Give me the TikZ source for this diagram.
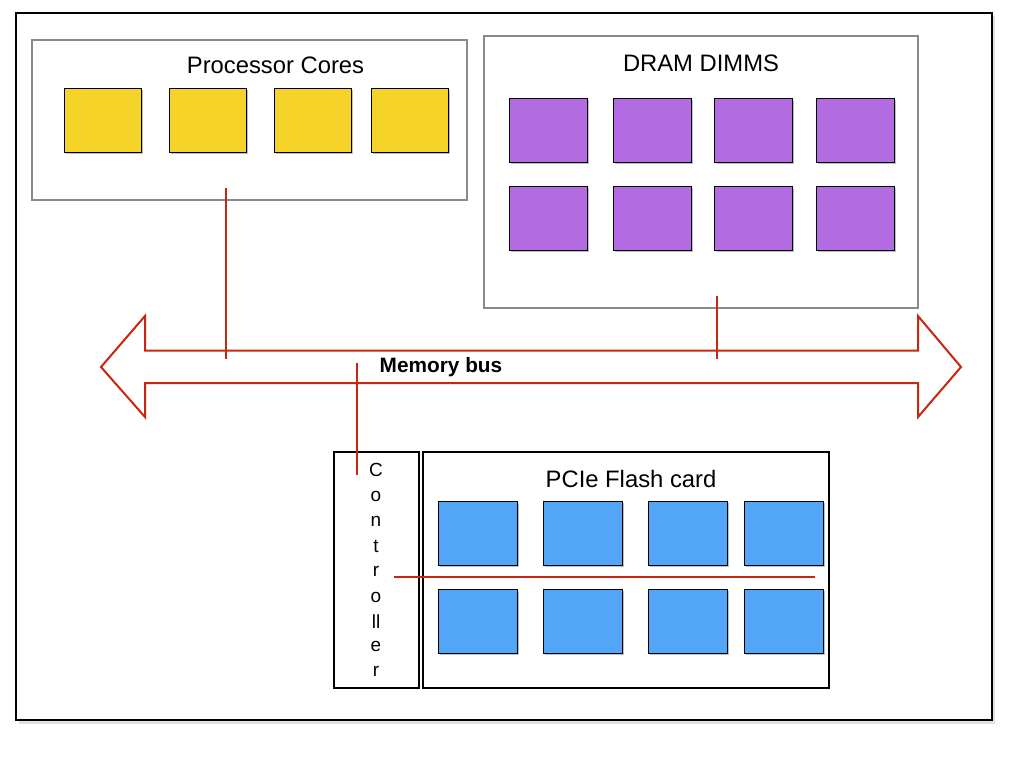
\documentclass[tikz,border=0pt]{standalone}
\usepackage{fontspec}
\setmainfont{Liberation Sans}
\usetikzlibrary{shadows}
\definecolor{coreY}{HTML}{F5D328}
\definecolor{dimmP}{HTML}{B26BE1}
\definecolor{flashB}{HTML}{53A6F7}
\definecolor{busR}{HTML}{C8260F}
\definecolor{grayB}{HTML}{87898C}
\tikzset{
  chip/.style={draw=black, line width=1pt, minimum width=#1, minimum height=64pt, inner sep=0pt,
    drop shadow={shadow xshift=1.5pt, shadow yshift=-1.5pt, opacity=0.25, fill=black}},
  graybox/.style={draw=grayB, line width=2pt, inner sep=0pt},
  blackbox/.style={draw=black, line width=2.4pt, inner sep=0pt},
  redline/.style={draw=busR, line width=2pt},
  title/.style={font=\fontsize{23.8}{26}\selectfont, inner sep=0pt},
}
\begin{document}
\begin{tikzpicture}[x=1pt,y=-1pt]
\useasboundingbox (0,0) rectangle (1024,768);
% outer frame
\fill[black!12] (19,16) rectangle (995,724);
\node[draw=black, fill=white, line width=1.5pt, inner sep=0pt, minimum width=976pt, minimum height=707pt] (frame) at (504,366.5) {};
% processor cores
\node[graybox, minimum width=435pt, minimum height=160pt] (cpu) at (249.5,120) {};
\node[title] (cputitle) at (275.5,65) {Processor Cores};
\foreach \x/\n in {102.5/1,207.5/2,312.5/3,409.5/4}
  \node[chip=77pt, fill=coreY] (core\n) at (\x,120) {};
% DRAM
\node[graybox, minimum width=434pt, minimum height=272pt] (dram) at (701,172) {};
\node[title] (dramtitle) at (701,63) {DRAM DIMMS};
\foreach \x/\n in {548/1,652.5/2,753.5/3,855/4}{
  \node[chip=78pt, fill=dimmP] (dimmA\n) at (\x,130) {};
  \node[chip=78pt, fill=dimmP] (dimmB\n) at (\x,218) {};
}
% memory bus arrow
\draw[busR, line width=2pt, line join=miter]
  (101,367) -- (145,316) -- (145,350.5) -- (918,350.5) -- (918,316) -- (961,367)
  -- (918,417) -- (918,383) -- (145,383) -- (145,417) -- cycle;
\node[font=\bfseries\fontsize{20.8}{22}\selectfont, inner sep=0pt] (bus) at (441,367.5) {Memory bus};
% controller and flash
\node[blackbox, line width=2pt, minimum width=85pt, minimum height=236pt] (ctrl) at (376.5,570) {};
\node[blackbox, minimum width=406pt, minimum height=236pt] (flash) at (626,570) {};
\node[title] (flashtitle) at (631,478.5) {PCIe Flash card};
\foreach \y/\l [count=\i] in {470/C,496/o,521/n,546/t,571/r,597/o,622/ll,646/e,671/r}
  \node[font=\fontsize{19}{20}\selectfont, inner sep=0pt] (cl\i) at (376,\y) {\l};
\foreach \x/\n in {477.5/1,582.5/2,687.5/3,784/4}{
  \node[chip=79pt, fill=flashB] (flA\n) at (\x,533.5) {};
  \node[chip=79pt, fill=flashB] (flB\n) at (\x,621.5) {};
}
% connectors
\coordinate (cpuS) at (226,188);
\coordinate (cpuE) at (226,359);
\coordinate (dramS) at (717,296);
\coordinate (dramE) at (717,359);
\coordinate (ctlS) at (356.5,363);
\coordinate (ctlE) at (356.5,475);
\coordinate (flS) at (394,577);
\coordinate (flE) at (815,577);
\draw[redline] (cpuS) -- (cpuE);
\draw[redline] (dramS) -- (dramE);
\draw[redline] (ctlS) -- (ctlE);
\draw[redline] (flS) -- (flE);
\end{tikzpicture}
\end{document}
